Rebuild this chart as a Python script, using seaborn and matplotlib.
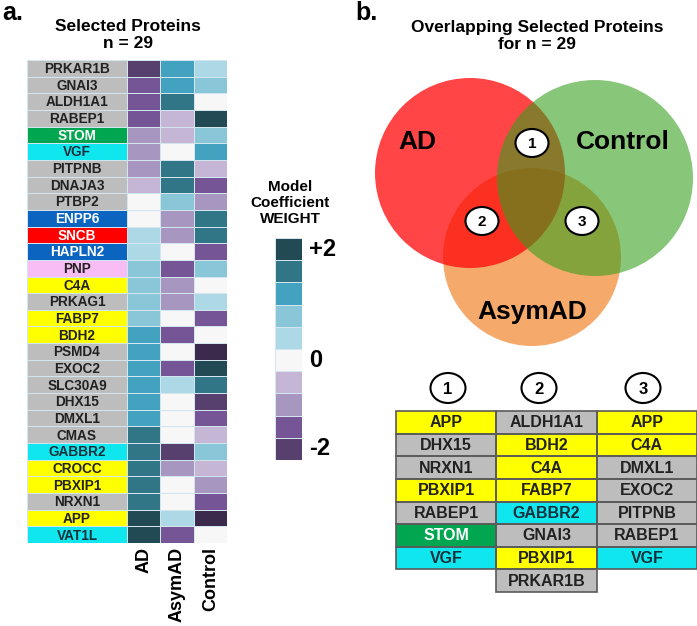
import numpy as np
import pandas as pd
import matplotlib
matplotlib.use("Agg")
import matplotlib.pyplot as plt
import seaborn as sns
from matplotlib.colors import ListedColormap, BoundaryNorm
from matplotlib.patches import Circle, Ellipse, Rectangle

# ---------------- data ----------------
proteins = ["PRKAR1B", "GNAI3", "ALDH1A1", "RABEP1", "STOM", "VGF", "PITPNB", "DNAJA3",
            "PTBP2", "ENPP6", "SNCB", "HAPLN2", "PNP", "C4A", "PRKAG1", "FABP7", "BDH2",
            "PSMD4", "EXOC2", "SLC30A9", "DHX15", "DMXL1", "CMAS", "GABBR2", "CROCC",
            "PBXIP1", "NRXN1", "APP", "VAT1L"]
label_groups = ["grey", "grey", "grey", "grey", "green", "cyan", "grey", "grey",
                "grey", "blue", "red", "blue", "pink", "yellow", "grey", "yellow", "yellow",
                "grey", "grey", "grey", "grey", "grey", "grey", "cyan", "yellow",
                "yellow", "grey", "yellow", "cyan"]
groups = ["AD", "AsymAD", "Control"]
ad_weight = [-1.6, -1.2, -1.2, -1.2, -0.8, -0.8, -0.8, -0.4, 0.0, 0.0, 0.4, 0.4, 0.8, 0.8,
             0.8, 0.8, 1.2, 1.2, 1.2, 1.2, 1.2, 1.2, 1.6, 1.6, 1.6, 1.6, 1.6, 2.0, 2.0]
asym_weight = [1.2, 1.2, 1.6, -0.4, -0.4, 0.0, 1.6, 1.6, 0.8, -0.8, -0.8, 0.0, -1.2, -0.8,
               -0.8, 0.0, -1.2, 0.0, -1.2, 0.4, 0.0, 0.0, 0.0, -1.6, -0.8, 0.0, 0.0, 0.4, -1.2]
ctrl_weight = [0.4, 0.8, 0.0, 2.0, 0.8, 1.2, -0.4, -1.2, -0.8, 1.6, 1.6, -1.2, 0.8, 0.0,
               0.4, -1.2, 0.0, -2.0, 2.0, 1.6, -1.6, -1.2, -0.4, 0.8, -0.4, -0.8, -1.2, -2.0, 0.0]

weight_levels = [-2.0, -1.6, -1.2, -0.8, -0.4, 0.0, 0.4, 0.8, 1.2, 1.6, 2.0]
level_colors = ["#3b2a4b", "#58406e", "#765596", "#a796c0", "#c5b6d6", "#f7f7f7",
                "#add8e6", "#88c6d8", "#42a2bf", "#317686", "#224a55"]
cbar_levels = [2.0, 1.6, 1.2, 0.8, 0.4, 0.0, -0.4, -0.8, -1.2, -1.6]
cbar_tick_labels = ["+2", "0", "-2"]

group_fill = {"grey": "#bdbdbd", "green": "#00a650", "cyan": "#10e6ee", "blue": "#0a64c0",
              "red": "#ff0000", "pink": "#f9bdf5", "yellow": "#ffff00"}
group_text = {"grey": "#222222", "green": "white", "cyan": "#15303a", "blue": "white",
              "red": "white", "pink": "#222222", "yellow": "#222222"}

venn_sets = ["AD", "Control", "AsymAD"]
overlap_ids = ["1", "2", "3"]
overlap_1 = ["APP", "DHX15", "NRXN1", "PBXIP1", "RABEP1", "STOM", "VGF"]
overlap_2 = ["ALDH1A1", "BDH2", "C4A", "FABP7", "GABBR2", "GNAI3", "PBXIP1", "PRKAR1B"]
overlap_3 = ["APP", "C4A", "DMXL1", "EXOC2", "PITPNB", "RABEP1", "VGF"]

# ---------------- figure ----------------
W, H = 697, 626
fig = plt.figure(figsize=(W / 100, H / 100), dpi=100)
FONT = ["Liberation Sans", "DejaVu Sans"]
plt.rcParams["font.family"] = FONT


def frac(x0, y0, x1, y1):
    return [x0 / W, 1 - y1 / H, (x1 - x0) / W, (y1 - y0) / H]


bg = fig.add_axes([0, 0, 1, 1])
bg.set_xlim(0, W)
bg.set_ylim(H, 0)
bg.axis("off")

cmap = ListedColormap(level_colors)
bounds = [weight_levels[0] - 0.2] + [v + 0.2 for v in weight_levels]
norm = BoundaryNorm(bounds, cmap.N)
GRID = "#d3e5ee"

# ---- panel a: label column ----
group_names = list(group_fill.keys())
group_cmap = ListedColormap([group_fill[g] for g in group_names])
lab_codes = pd.DataFrame({"g": [group_names.index(g) for g in label_groups]}, index=proteins)
ax_lab = fig.add_axes(frac(27, 60, 127, 543))
sns.heatmap(lab_codes, ax=ax_lab, cmap=group_cmap,
            vmin=-0.5, vmax=len(group_names) - 0.5, cbar=False, linewidths=0.6,
            linecolor=GRID, xticklabels=False, yticklabels=False)
for i, (p, g) in enumerate(zip(proteins, label_groups)):
    ax_lab.text(0.5, i + 0.55, p, ha="center", va="center", fontsize=9.8,
                fontweight="bold", color=group_text[g])

# ---- panel a: heatmap ----
hm = pd.DataFrame({"AD": ad_weight, "AsymAD": asym_weight, "Control": ctrl_weight},
                  index=proteins)[groups]
ax_hm = fig.add_axes(frac(127, 60, 227, 543))
sns.heatmap(hm, ax=ax_hm, cmap=cmap, norm=norm, cbar=False, linewidths=0.6,
            linecolor=GRID, yticklabels=False)
ax_hm.set_xticklabels(groups, rotation=90, fontsize=13, fontweight="bold")
ax_hm.tick_params(axis="x", length=0, pad=3)
ax_hm.set_xlabel("")

# ---- colorbar ----
ax_cb = fig.add_axes(frac(275, 238, 302, 460))
cb = pd.DataFrame({"w": cbar_levels})
sns.heatmap(cb, ax=ax_cb, cmap=cmap, norm=norm, cbar=False, linewidths=0.6,
            linecolor=GRID, xticklabels=False, yticklabels=False)
tick_rows = [0, cbar_levels.index(0.0), len(cbar_levels) - 1]
for r, t in zip(tick_rows, cbar_tick_labels):
    ax_cb.text(1.25, r + 0.5, t, ha="left", va="center", fontsize=17, fontweight="bold",
               transform=ax_cb.transData, clip_on=False)
bg.text(290, 203, "Model\nCoefficient\nWEIGHT", ha="center", va="center", fontsize=11,
        fontweight="bold", linespacing=1.15)

bg.text(2, 13, "a.", ha="left", va="center", fontsize=18, fontweight="bold")
bg.text(128, 35, "Selected Proteins\nn = 29", ha="center", va="center", fontsize=12.5,
        fontweight="bold", linespacing=1.1)

# ---- panel b: Venn ----
bg.text(355, 13, "b.", ha="left", va="center", fontsize=18, fontweight="bold")
bg.text(537, 36, "Overlapping Selected Proteins\nfor n = 29", ha="center", va="center",
        fontsize=12.5, fontweight="bold", linespacing=1.2)

venn_geom = {"AsymAD": ((532, 257), 89, "#f5a96a", 1.0),
             "AD": ((470, 173), 95, "#ff0707", 0.75),
             "Control": ((595, 178), 98, "#349f1c", 0.586)}
for name in ["AsymAD", "AD", "Control"]:
    c, r, col, a = venn_geom[name]
    bg.add_patch(Circle(c, r, facecolor=col, alpha=a, edgecolor="none", zorder=1))
venn_label_pos = {"AD": (417, 142), "Control": (623, 142), "AsymAD": (532, 312)}
for name in venn_sets:
    bg.text(*venn_label_pos[name], name, ha="center", va="center", fontsize=19,
            fontweight="bold", zorder=3)
num_pos = [(532, 143), (482, 221), (582, 221)]
for (x, y), n in zip(num_pos, overlap_ids):
    bg.add_patch(Ellipse((x, y), 33, 28, facecolor="white", edgecolor="black", lw=1.5,
                         zorder=4))
    bg.text(x, y + 1, n, ha="center", va="center", fontsize=11, fontweight="bold", zorder=5)

# ---- panel b: table ----
cols = [overlap_1, overlap_2, overlap_3]
nrows = max(len(c) for c in cols)
prot_group = dict(zip(proteins, label_groups))
codes = np.full((nrows, 3), np.nan)
for j, c in enumerate(cols):
    for i, p in enumerate(c):
        codes[i, j] = group_names.index(prot_group[p])
ax_tab = fig.add_axes(frac(396, 411, 697, 592))
sns.heatmap(codes, ax=ax_tab, mask=np.isnan(codes), cmap=group_cmap,
            vmin=-0.5, vmax=len(group_names) - 0.5, cbar=False, linewidths=0,
            xticklabels=False, yticklabels=False)
for j, c in enumerate(cols):
    for i, p in enumerate(c):
        g = prot_group[p]
        ax_tab.add_patch(Rectangle((j, i), 1, 1, facecolor="none", edgecolor="#5a5a5a",
                                   lw=1.2, zorder=3, clip_on=False))
        ax_tab.text(j + 0.5, i + 0.52, p, ha="center", va="center", fontsize=11.5,
                    fontweight="bold", color=group_text[g], zorder=4)
head_x = [448, 539, 643]
for x, n in zip(head_x, overlap_ids):
    bg.add_patch(Ellipse((x, 388), 35, 30, facecolor="white", edgecolor="black", lw=1.5,
                         zorder=4))
    bg.text(x, 389, n, ha="center", va="center", fontsize=12, fontweight="bold", zorder=5)

fig.savefig("out.png", dpi=100)
